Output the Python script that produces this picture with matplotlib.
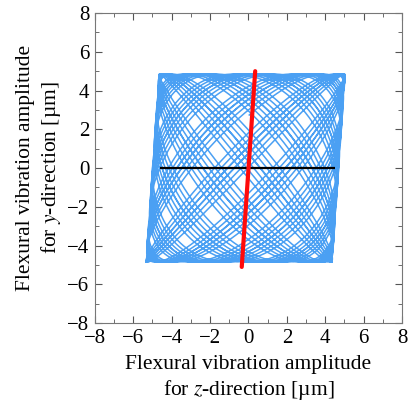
import matplotlib
matplotlib.use("Agg")
import matplotlib.pyplot as plt
import numpy as np

# orbit of the tool tip
amp_z = 4.85          # half width of the envelope [um]
amp_y = 4.85          # half height of the envelope [um]
shear = 0.07          # z shift per um of y (tilted sides)
center_z = -0.15
freq_z = 9.0
freq_y = 10.0
drift = 0.013         # slow phase drift of y vs z
n_cycles = 4

# red line: longitudinal direction, black line: z-axis reference
red_z = [-0.35, 0.35]
red_y = [-5.1, 5.0]
black_z = [-4.6, 4.5]
black_y = [0.0, 0.0]

t = np.linspace(0, 2 * np.pi * n_cycles, 16000)
orbit_y = amp_y * np.sin(freq_y * t + 0.6 + drift * t)
orbit_z = center_z + amp_z * np.sin(freq_z * t) + shear * orbit_y

plt.rcParams['font.family'] = ['Liberation Serif', 'DejaVu Serif']
plt.rcParams['mathtext.fontset'] = 'stix'

fig = plt.figure(figsize=(4.09, 4.07), dpi=100)
ax = fig.add_axes([0.232, 0.206, 0.751, 0.762])

ax.plot(orbit_z, orbit_y, color='#1e88f0', lw=1.1, alpha=0.8)
ax.plot(black_z, black_y, color='black', lw=1.6, solid_capstyle='butt')
ax.plot(red_z, red_y, color='#ff0a0a', lw=3.0, solid_capstyle='round')

ax.set_xlim(-8, 8)
ax.set_ylim(-8, 8)
ax.set_xticks(np.arange(-8, 9, 2))
ax.set_yticks(np.arange(-8, 9, 2))
ax.set_xticks(np.arange(-8, 9, 1), minor=True)
ax.set_yticks(np.arange(-8, 9, 1), minor=True)
ax.tick_params(which='both', direction='in', top=True, right=True,
               color='#555555', labelsize=15)
ax.tick_params(axis='x', pad=4)
ax.tick_params(axis='y', pad=4)
ax.tick_params(which='major', length=5)
ax.tick_params(which='minor', length=3)
for s in ax.spines.values():
    s.set_color('#777777')
    s.set_linewidth(0.8)

ax.set_xlabel('Flexural vibration amplitude\nfor $\\mathit{z}$-direction [\u00b5m]',
              fontsize=15.5, linespacing=1.25, labelpad=5)
ax.set_ylabel('Flexural vibration amplitude\nfor $\\mathit{y}$-direction [\u00b5m]',
              fontsize=15.5, linespacing=1.25, labelpad=3)

fig.savefig('out.png', dpi=100)
